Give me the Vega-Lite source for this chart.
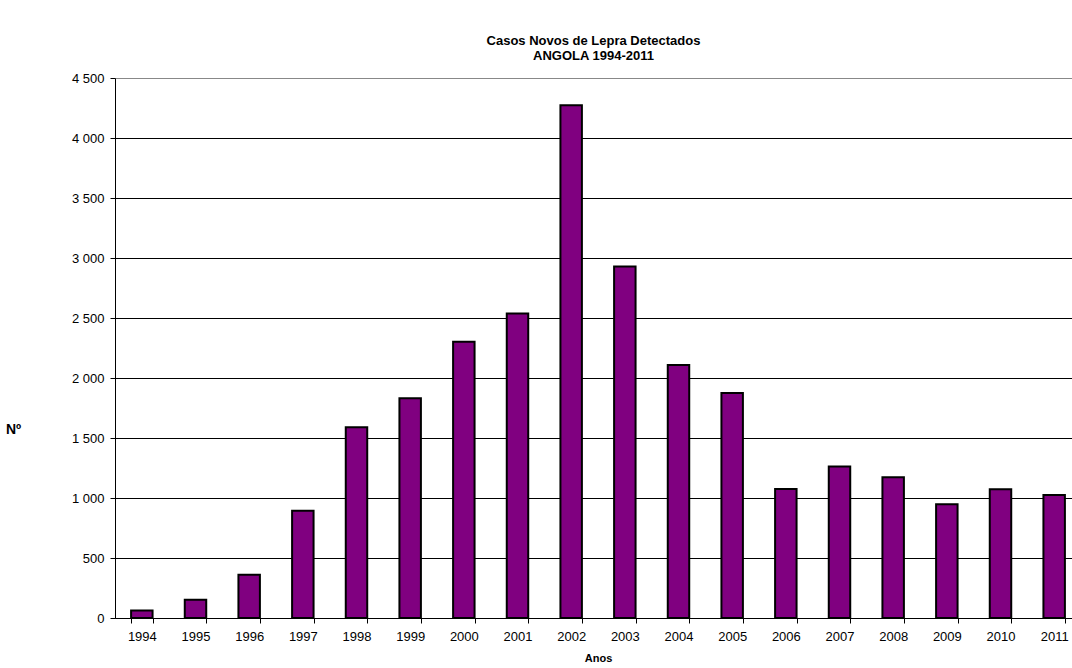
{
  "$schema": "https://vega.github.io/schema/vega-lite/v6.json",
  "autosize": "none",
  "width": 957,
  "height": 540,
  "padding": {"left": 115, "top": 78, "right": 0, "bottom": 50},
  "background": "white",
  "config": {
    "font": "Liberation Sans",
    "view": {"stroke": null}
  },
  "title": {
    "text": ["Casos Novos de Lepra Detectados", "ANGOLA 1994-2011"],
    "fontSize": 13,
    "fontWeight": "bold",
    "color": "black",
    "anchor": "middle",
    "lineHeight": 15,
    "offset": 9
  },
  "data": {
    "values": [
      {"ano": "1994", "casos": 63},
      {"ano": "1995", "casos": 153},
      {"ano": "1996", "casos": 360},
      {"ano": "1997", "casos": 894},
      {"ano": "1998", "casos": 1589},
      {"ano": "1999", "casos": 1831},
      {"ano": "2000", "casos": 2302},
      {"ano": "2001", "casos": 2538},
      {"ano": "2002", "casos": 4272},
      {"ano": "2003", "casos": 2930},
      {"ano": "2004", "casos": 2108},
      {"ano": "2005", "casos": 1875},
      {"ano": "2006", "casos": 1075},
      {"ano": "2007", "casos": 1263},
      {"ano": "2008", "casos": 1172},
      {"ano": "2009", "casos": 947},
      {"ano": "2010", "casos": 1072},
      {"ano": "2011", "casos": 1025}
    ]
  },
  "mark": {"type": "bar", "color": "#800080", "stroke": "black", "strokeWidth": 2},
  "encoding": {
    "x": {
      "field": "ano",
      "type": "ordinal",
      "scale": {"range": [0, 966], "paddingInner": 0.6, "paddingOuter": 0.3},
      "axis": {
        "title": "Anos",
        "titleFontSize": 11,
        "titleFontWeight": "bold",
        "titleColor": "black",
        "titlePadding": 9,
        "labelAngle": 0,
        "labelFontSize": 13,
        "labelColor": "black",
        "labelPadding": 7,
        "tickBand": "extent",
        "tickColor": "black",
        "tickSize": 5,
        "domainColor": "black",
        "grid": false
      }
    },
    "y": {
      "field": "casos",
      "type": "quantitative",
      "scale": {"domain": [0, 4500], "nice": false},
      "axis": {
        "values": [0, 500, 1000, 1500, 2000, 2500, 3000, 3500, 4000, 4500],
        "labelExpr": "replace(format(datum.value, ','), ',', ' ')",
        "labelFontSize": 13,
        "labelColor": "black",
        "labelPadding": 6,
        "tickColor": "black",
        "tickSize": 5,
        "domainColor": "black",
        "grid": true,
        "gridColor": {"condition": {"test": "datum.value === 4500", "value": "#888888"}, "value": "black"},
        "gridWidth": 1.2,
        "title": "Nº",
        "titleAngle": 0,
        "titleFontSize": 14,
        "titleFontWeight": "bold",
        "titleColor": "black",
        "titleX": -102,
        "titleY": 358
      }
    }
  }
}
